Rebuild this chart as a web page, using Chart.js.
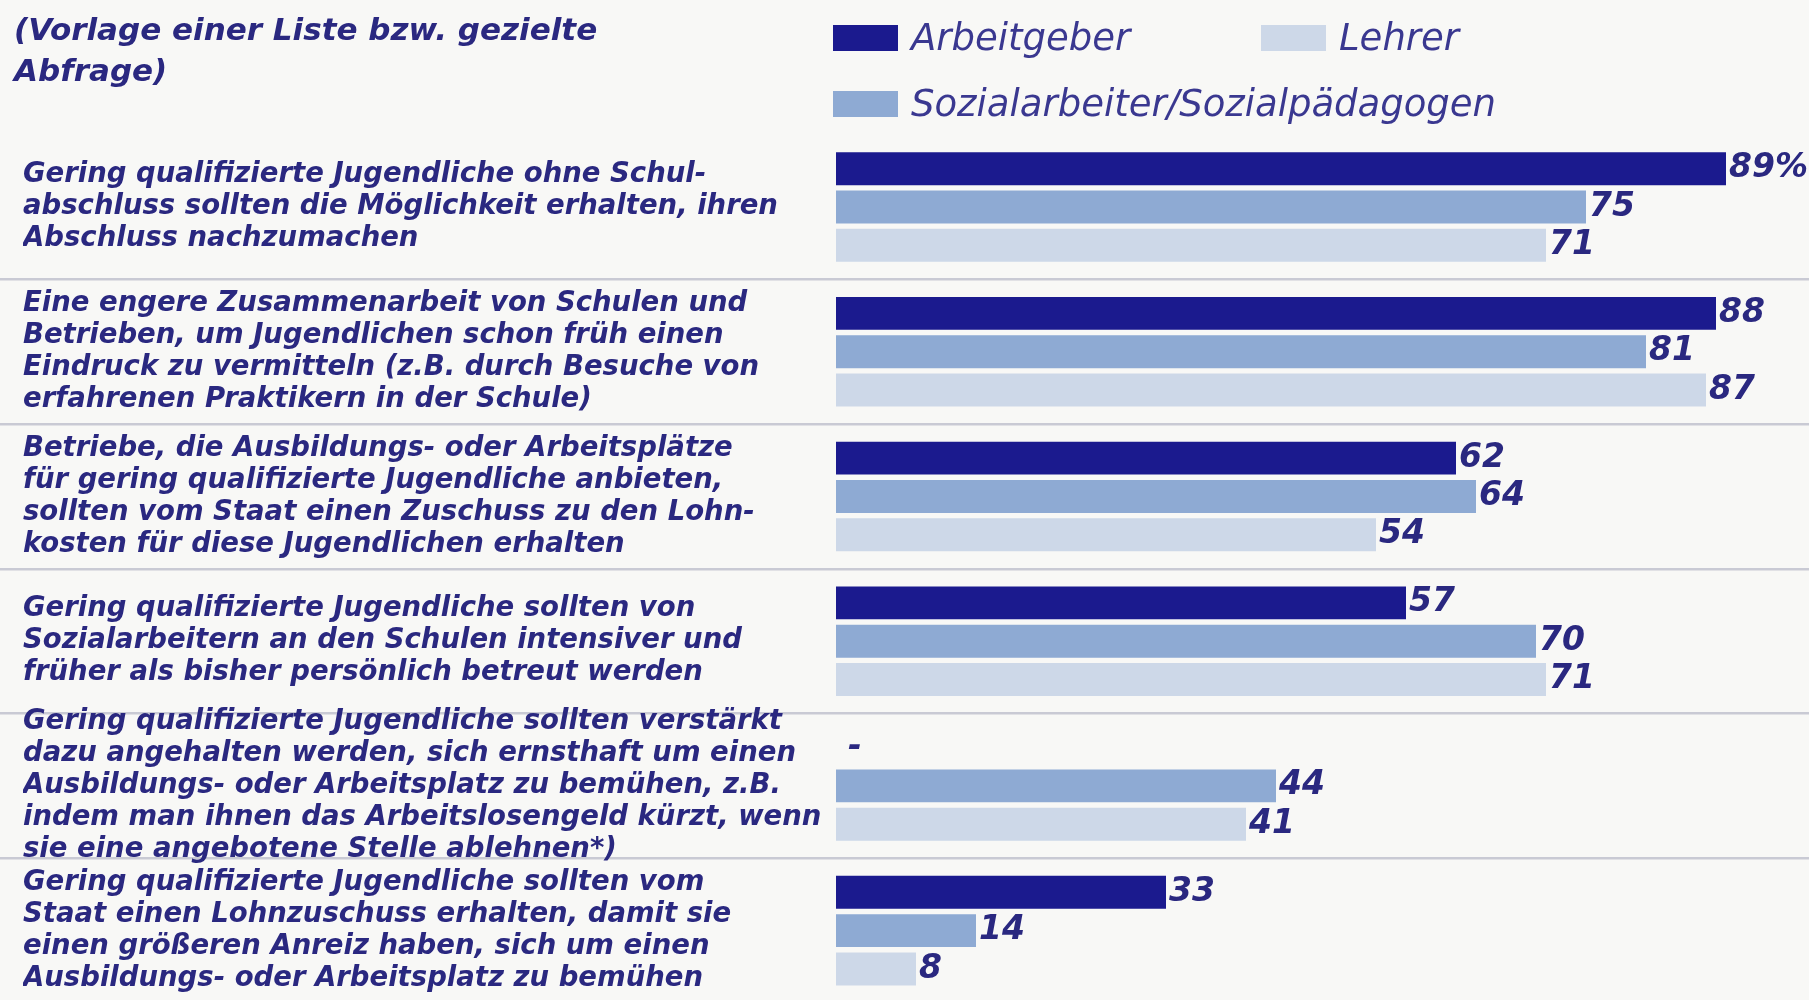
<!DOCTYPE html>
<html>
<head>
<meta charset="utf-8">
<script src="https://cdn.jsdelivr.net/npm/chart.js@4.4.1/dist/chart.umd.min.js"></script>
<style>
  html, body { margin: 0; padding: 0; background: #f8f8f6; overflow: hidden; }
  #wrap { position: relative; width: 1809px; height: 1000px; }
  #title { position: absolute; left: 14px; top: 9px; font: italic bold 31px "DejaVu Sans"; color: #2a2880; line-height: 41px; }
  .leg { position: absolute; font: italic 37px "DejaVu Sans"; color: #3a3890; white-space: nowrap; line-height: 26px; }
  .leg i { display: inline-block; width: 65px; height: 26px; vertical-align: top; margin-right: 13px; }
  canvas { position: absolute; left: 0; top: 0; }
</style>
</head>
<body>
<div id="wrap">
  <canvas id="chart" width="1809" height="1003"></canvas>
  <div id="title">(Vorlage einer Liste bzw. gezielte<br>Abfrage)</div>
</div>
<script>
// Kategorien (Aussagen) und Werte in Prozent
var categories = [
  ['Gering qualifizierte Jugendliche ohne Schul-', 'abschluss sollten die Möglichkeit erhalten, ihren', 'Abschluss nachzumachen'],
  ['Eine engere Zusammenarbeit von Schulen und', 'Betrieben, um Jugendlichen schon früh einen', 'Eindruck zu vermitteln (z.B. durch Besuche von', 'erfahrenen Praktikern in der Schule)'],
  ['Betriebe, die Ausbildungs- oder Arbeitsplätze', 'für gering qualifizierte Jugendliche anbieten,', 'sollten vom Staat einen Zuschuss zu den Lohn-', 'kosten für diese Jugendlichen erhalten'],
  ['Gering qualifizierte Jugendliche sollten von', 'Sozialarbeitern an den Schulen intensiver und', 'früher als bisher persönlich betreut werden'],
  ['Gering qualifizierte Jugendliche sollten verstärkt', 'dazu angehalten werden, sich ernsthaft um einen', 'Ausbildungs- oder Arbeitsplatz zu bemühen, z.B.', 'indem man ihnen das Arbeitslosengeld kürzt, wenn', 'sie eine angebotene Stelle ablehnen*)'],
  ['Gering qualifizierte Jugendliche sollten vom', 'Staat einen Lohnzuschuss erhalten, damit sie', 'einen größeren Anreiz haben, sich um einen', 'Ausbildungs- oder Arbeitsplatz zu bemühen']
];
var arbeitgeber    = [89, 88, 62, 57, null, 33];
var sozialarbeiter = [75, 81, 64, 70, 44, 14];
var lehrer         = [71, 87, 54, 71, 41, 8];

var textColor = '#2a2880';
var sepColor = '#c9cad4';

// Legende: Reihenfolge wie im Original
var legendOrder = [0, 2, 1];
var legendSlots = [[833, 25], [1261, 25], [833, 91]];

var valueLabels = {
  id: 'valueLabels',
  afterDatasetsDraw: function(chart) {
    var ctx = chart.ctx;
    ctx.save();
    ctx.font = 'italic bold 33px "DejaVu Sans"';
    ctx.fillStyle = textColor;
    ctx.textBaseline = 'middle';
    chart.data.datasets.forEach(function(ds, di) {
      chart.getDatasetMeta(di).data.forEach(function(bar, i) {
        var v = ds.data[i];
        var txt = v == null ? '-' : String(v);
        if (di === 0 && i === 0) txt += '%';
        var x = v == null ? chart.scales.x.getPixelForValue(0) + 12 : bar.x + 3;
        ctx.fillText(txt, x, bar.y);
      });
    });
    ctx.restore();
  }
};

var ctx = document.getElementById('chart').getContext('2d');
var chart = new Chart(ctx, {
  type: 'bar',
  data: {
    labels: categories,
    datasets: [
      { label: 'Arbeitgeber', data: arbeitgeber, backgroundColor: '#1b1a8e' },
      { label: 'Sozialarbeiter/Sozialpädagogen', data: sozialarbeiter, backgroundColor: '#8eaad3' },
      { label: 'Lehrer', data: lehrer, backgroundColor: '#cdd8e8' }
    ]
  },
  options: {
    indexAxis: 'y',
    responsive: false,
    animation: false,
    layout: { padding: { top: 134.6, left: 23, right: 0, bottom: 0 } },
    datasets: { bar: { categoryPercentage: 0.794, barPercentage: 0.86 } },
    plugins: { legend: { display: false }, tooltip: { enabled: false } },
    scales: {
      x: { display: false, min: 0, max: 97.3 },
      y: {
        type: 'category',
        position: 'left',
        offset: true,
        border: { display: false },
        grid: {
          offset: true,
          lineWidth: 2.5,
          tickLength: 836,
          color: function(c) { return (c.index === 0 || c.index === categories.length) ? 'rgba(0,0,0,0)' : sepColor; }
        },
        ticks: {
          autoSkip: false,
          crossAlign: 'far',
          color: textColor,
          font: { family: 'DejaVu Sans', size: 27.5, style: 'italic', weight: 'bold', lineHeight: 1.164 }
        },
        afterFit: function(scale) {
          scale.width = 813;
          scale.paddingTop = 0;
          scale.paddingBottom = 0;
        }
      }
    }
  },
  plugins: [valueLabels]
});

// HTML-Legende aus den Datensätzen
var wrap = document.getElementById('wrap');
legendOrder.forEach(function(di, k) {
  var ds = chart.data.datasets[di];
  var el = document.createElement('div');
  el.className = 'leg';
  el.style.left = legendSlots[k][0] + 'px';
  el.style.top = legendSlots[k][1] + 'px';
  el.innerHTML = '<i style="background:' + ds.backgroundColor + '"></i>' + ds.label;
  wrap.appendChild(el);
});
</script>
</body>
</html>
